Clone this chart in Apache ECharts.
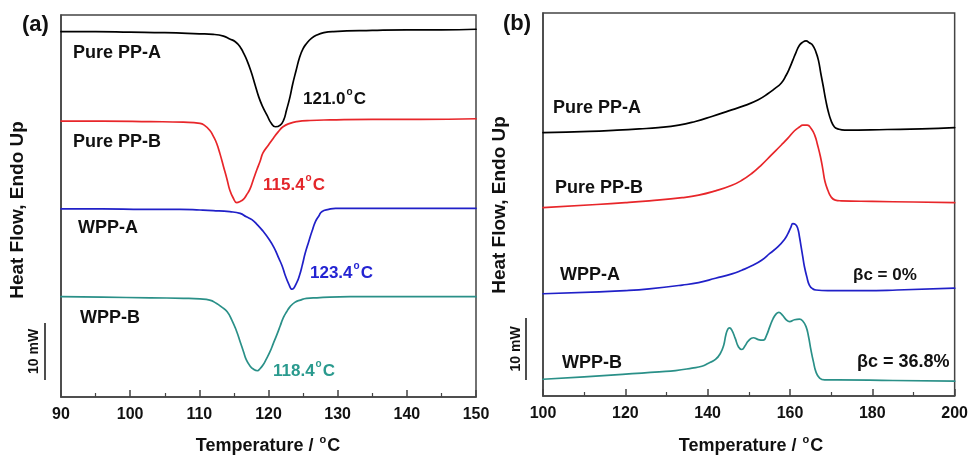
<!DOCTYPE html>
<html>
<head>
<meta charset="utf-8">
<script src="https://cdn.jsdelivr.net/npm/echarts@6/dist/echarts.min.js"></script>
<style>
  html, body { margin: 0; padding: 0; background: #fff; }
  #chart { width: 971px; height: 457px; }
</style>
</head>
<body>
<div id="chart"></div>
<script>
// ---- Panel (a): crystallization exotherms, [temperature °C, heat flow mW] ----
const coolPureA = [[90,64.1],[95,64.1],[100,64.0],[105,63.9],[110,63.7],[112,63.6],[113.5,63.3],[114.4,62.8],[115.2,62.3],[115.9,61.4],[116.4,60.3],[116.9,59.0],[117.5,57.0],[118.0,55.0],[118.6,52.6],[119.2,50.8],[119.8,49.4],[120.4,48.0],[121.0,47.4],[121.7,47.7],[122.2,48.6],[122.6,50.3],[123.1,52.6],[123.5,54.9],[124.0,57.3],[124.5,59.6],[125.0,61.1],[125.5,62.0],[126.2,62.9],[127.0,63.5],[128.0,63.9],[129.4,64.1],[135,64.3],[140,64.4],[145,64.4],[150,64.5]];
const coolPureB = [[90,48.4],[96,48.4],[102.9,48.3],[107.7,48.2],[110.1,48.0],[110.8,47.6],[111.5,46.8],[112.0,45.8],[112.5,44.5],[113.0,42.6],[113.5,40.4],[114.0,38.2],[114.4,36.3],[114.9,34.9],[115.4,34.1],[115.9,34.3],[116.4,34.7],[116.8,35.4],[117.3,36.4],[117.8,38.1],[118.3,39.8],[118.8,41.4],[119.2,42.8],[120.0,44.2],[120.7,45.4],[121.4,46.5],[122.1,47.4],[123.1,48.0],[124.1,48.3],[126.0,48.5],[128.9,48.6],[135,48.7],[142,48.7],[150,48.8]];
const coolWppA = [[90,33.0],[96,33.0],[102,32.9],[107.2,32.9],[110.1,32.8],[112.0,32.7],[114.4,32.5],[115.9,32.2],[116.8,31.6],[117.6,31.1],[118.4,30.2],[119.2,29.1],[120.0,27.8],[120.8,26.2],[121.5,24.3],[122.0,22.9],[122.4,21.4],[122.9,19.9],[123.4,18.9],[124.1,20.1],[124.5,21.4],[124.9,23.2],[125.3,25.2],[125.8,27.2],[126.3,29.1],[126.8,30.8],[127.3,31.8],[127.7,32.5],[128.7,32.9],[129.7,33.1],[135,33.1],[142,33.1],[150,33.1]];
const coolWppB = [[90,17.6],[96,17.5],[102.9,17.4],[107.7,17.3],[110.1,17.2],[111.5,17.0],[112.5,16.4],[113.2,15.8],[114.0,15.0],[114.7,13.5],[115.4,11.5],[115.9,9.7],[116.4,7.9],[116.8,6.5],[117.3,5.5],[117.8,4.9],[118.4,4.6],[118.8,5.0],[119.2,5.6],[119.7,6.7],[120.2,7.9],[120.7,9.4],[121.2,10.9],[121.7,12.5],[122.1,13.8],[122.6,14.9],[123.1,15.8],[123.8,16.6],[124.6,17.0],[125.5,17.3],[127.0,17.4],[131.8,17.6],[140,17.6],[150,17.6]];
const coolPeaks = ['121.0', '115.4', '123.4', '118.4'];

// ---- Panel (b): melting endotherms ----
const meltPureA = [[100,42.5],[111.3,42.7],[118,42.9],[123.4,43.1],[128,43.3],[133.0,43.7],[137.0,44.3],[141.0,45.1],[145.1,46.0],[149.1,46.9],[152.3,47.8],[154.7,48.8],[156.3,49.6],[157.9,50.5],[159.1,51.8],[159.9,52.9],[160.7,54.2],[161.5,55.5],[162.3,56.6],[163.1,57.1],[163.9,57.3],[164.7,57.0],[165.5,56.6],[166.3,55.5],[166.9,54.2],[167.5,52.0],[168.1,49.9],[168.7,47.7],[169.3,45.9],[170.0,44.4],[170.8,43.4],[171.6,43.1],[173.3,42.9],[183.6,43.0],[192,43.1],[200,43.3]];
const meltPureB = [[100,30.4],[113,30.9],[120,31.2],[125.8,31.5],[133.8,32.0],[137.8,32.4],[141.9,33.1],[145.9,34.0],[148.3,34.8],[150.7,35.9],[153.1,37.3],[155.5,38.9],[157.9,40.5],[159.5,41.6],[161.1,42.8],[162.3,43.4],[163.1,43.7],[164.2,43.7],[165.1,43.2],[166.0,42.1],[166.7,40.5],[167.4,38.6],[168.0,36.5],[168.5,34.6],[169.2,33.2],[170.0,32.1],[171.0,31.6],[172.4,31.5],[180,31.4],[190,31.3],[200,31.2]];
const meltWppA = [[100,16.5],[113.7,16.8],[120,17.0],[125.8,17.3],[133.8,17.9],[137.8,18.3],[141.9,19.0],[145.9,19.7],[148.3,20.3],[150.7,21.0],[153.1,21.9],[155.1,23.0],[157.1,24.1],[158.7,25.3],[159.5,26.2],[160.2,27.2],[160.7,27.8],[161.3,27.7],[161.9,27.0],[162.3,25.7],[162.7,24.1],[163.1,22.5],[163.5,20.9],[164.1,19.2],[164.7,17.9],[165.5,17.3],[166.3,17.1],[169.2,17.0],[178,17.0],[186,17.1],[200,17.4]];
const meltWppB = [[100,2.7],[110,3.1],[119.3,3.5],[124,3.7],[128.2,3.9],[132.2,4.1],[136.2,4.5],[138.6,4.8],[140.2,5.3],[141.9,5.9],[143.1,6.9],[143.9,8.2],[144.4,9.8],[144.9,10.8],[145.3,11.0],[145.9,10.6],[146.7,9.3],[147.5,7.9],[148.3,7.5],[149.1,8.1],[149.9,8.9],[151.1,9.4],[152.3,9.1],[153.5,9.0],[154.3,9.8],[155.1,11.2],[155.9,12.5],[156.7,13.3],[157.3,13.5],[158.1,13.1],[159.1,12.3],[159.9,12.0],[161.1,12.3],[162.3,12.4],[163.1,12.1],[163.9,11.2],[164.5,9.6],[165.1,7.4],[165.7,5.5],[166.3,3.9],[167.2,2.9],[168.4,2.6],[171.6,2.6],[185,2.5],[200,2.4]];
const betaC = ['0%', '36.8%'];

const sampleNames = ['Pure PP-A', 'Pure PP-B', 'WPP-A', 'WPP-B'];
const colors = ['#000000', '#e8262a', '#2020c8', '#2a9088'];
const labelColors = ['#111111', '#e3262b', '#2424d2', '#2a9a8e'];

const FONT = 'Arial, "Liberation Sans", sans-serif';
const chart = echarts.init(document.getElementById('chart'), null, { renderer: 'canvas' });

function xAxisFor(gridIndex, min, max, interval) {
  return {
    type: 'value', gridIndex, min, max, interval,
    axisLine: { lineStyle: { color: '#444', width: 1.5 } },
    axisTick: { inside: true, length: 7, lineStyle: { color: '#444', width: 1.5 } },
    minorTick: { show: true, splitNumber: 2, length: 4, lineStyle: { color: '#444', width: 1.2 } },
    axisLabel: { color: '#111', fontFamily: FONT, fontWeight: 'bold', fontSize: 16, margin: 10 },
    splitLine: { show: false }
  };
}
function yAxisFor(gridIndex, max) {
  return {
    type: 'value', gridIndex, min: 0, max,
    axisLine: { show: true, lineStyle: { color: '#444', width: 1.5 } },
    axisTick: { show: false }, axisLabel: { show: false }, splitLine: { show: false }
  };
}
function lineSeries(data, idx, color) {
  return {
    type: 'line', xAxisIndex: idx, yAxisIndex: idx, data,
    showSymbol: false, smooth: 0.5, silent: true,
    lineStyle: { color, width: 1.7, join: 'round', cap: 'round' }
  };
}

const series = [];
[coolPureA, coolPureB, coolWppA, coolWppB].forEach((d, i) => series.push(lineSeries(d, 0, colors[i])));
[meltPureA, meltPureB, meltWppA, meltWppB].forEach((d, i) => series.push(lineSeries(d, 1, colors[i])));

chart.setOption({
  animation: false,
  backgroundColor: '#fff',
  grid: [
    { left: 61, top: 15, width: 415, height: 382, show: true, borderColor: '#444', borderWidth: 1.5 },
    { left: 543, top: 13, width: 415, height: 383, show: true, borderColor: '#444', borderWidth: 1.5 }
  ],
  xAxis: [xAxisFor(0, 90, 150, 10), xAxisFor(1, 100, 200, 20)],
  yAxis: [yAxisFor(0, 67), yAxisFor(1, 61.8)],
  series
});

// ---- annotations ----
const txt = (x, y, text, size, color) => ({
  type: 'text', x, y, silent: true,
  style: { text, fill: color || '#111', font: `bold ${size}px ${FONT}`, textAlign: 'left', textVerticalAlign: 'middle' }
});

// value + raised small "o" + "C"
const degRich = (color, size) => ({
  v: { fontFamily: FONT, fontWeight: 'bold', fontSize: size, fill: color, color },
  s: { fontFamily: FONT, fontWeight: 'bold', fontSize: Math.round(size * 0.6), fill: color, color, verticalAlign: 'top', padding: [0, 1, 13, 1] }
});
const degText = (x, y, value, color, size, align) => ({
  type: 'text', x, y, silent: true,
  style: {
    text: `{v|${value}}{s|o}{v|C}`, rich: degRich(color, size),
    textAlign: align || 'left', textVerticalAlign: 'middle'
  }
});

const graphics = [];
// panel letters
graphics.push(txt(22, 25, '(a)', 22));
graphics.push(txt(503, 24, '(b)', 22));
// y-axis titles, read bottom to top
[[18, 210], [500, 205]].forEach(([x, y]) => graphics.push({
  type: 'text', x, y, rotation: Math.PI / 2, silent: true,
  style: { text: 'Heat Flow, Endo Up', fill: '#111', font: `bold 19px ${FONT}`, textAlign: 'center', textVerticalAlign: 'middle' }
}));
// x-axis titles
graphics.push(degText(268, 446, 'Temperature / ', '#111', 18, 'center'));
graphics.push(degText(751, 446, 'Temperature / ', '#111', 18, 'center'));

// sample names
const namePosA = [[73, 53], [73, 142], [78, 228], [80, 318]];
const namePosB = [[553, 108], [555, 188], [560, 275], [562, 363]];
sampleNames.forEach((n, i) => {
  graphics.push(txt(namePosA[i][0], namePosA[i][1], n, 18));
  graphics.push(txt(namePosB[i][0], namePosB[i][1], n, 18));
});
// crystallization peak temperatures
const peakPos = [[303, 99], [263, 185], [310, 273], [273, 371]];
coolPeaks.forEach((p, i) => graphics.push(degText(peakPos[i][0], peakPos[i][1], p, labelColors[i], 17)));
// beta-phase content
graphics.push(txt(853, 275, 'βc = ' + betaC[0], 17));
graphics.push(txt(857, 362, 'βc = ' + betaC[1], 18));

// 10 mW scale bars, sized through each panel's heat-flow scale
const bars = [{ grid: 0, x: 90, from: 3.0, px: 45, label: 34 }, { grid: 1, x: 100, from: 2.6, px: 526, label: 516 }];
bars.forEach(b => {
  const p0 = chart.convertToPixel({ gridIndex: b.grid }, [b.x, b.from]);
  const p1 = chart.convertToPixel({ gridIndex: b.grid }, [b.x, b.from + 10]);
  graphics.push({ type: 'line', silent: true, shape: { x1: b.px, y1: p0[1], x2: b.px, y2: p1[1] }, style: { stroke: '#222', lineWidth: 1.6 } });
  graphics.push({
    type: 'text', x: b.label, y: (p0[1] + p1[1]) / 2, rotation: Math.PI / 2, silent: true,
    style: { text: '10 mW', fill: '#111', font: `bold 14px ${FONT}`, textAlign: 'center', textVerticalAlign: 'middle' }
  });
});

chart.setOption({ graphic: graphics });
</script>
</body>
</html>
